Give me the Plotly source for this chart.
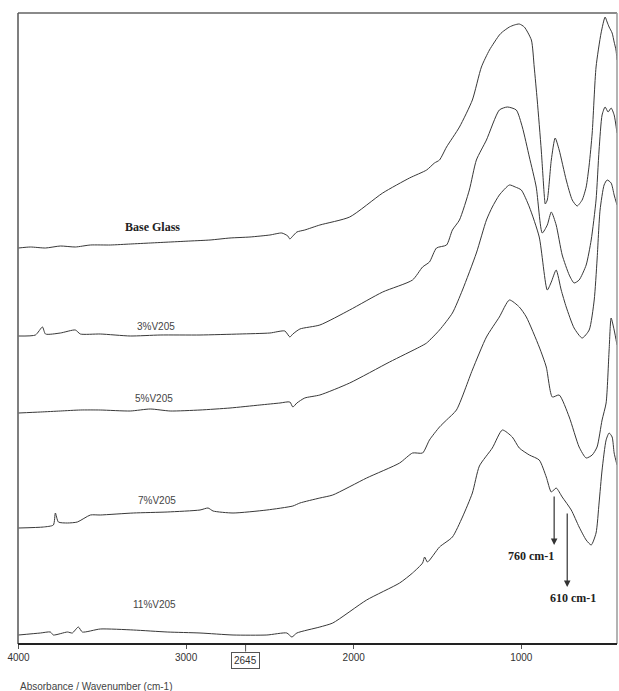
import plotly.graph_objects as go

# FTIR absorbance spectra (stacked, arbitrary offsets) -- wavenumber in cm-1
base_wn = [4000, 3929, 3839, 3750, 3661, 3571, 3452, 3333, 3214, 3095, 2976, 2857, 2738, 2619,
           2500, 2429, 2393, 2381, 2363, 2339, 2292, 2202, 2024, 1827, 1667, 1565, 1518, 1488,
           1446, 1369, 1292, 1238, 1190, 1131, 1113, 1071, 1042, 1012, 982, 940, 923, 905, 881,
           863, 857, 845, 821, 798, 774, 732, 696, 667, 637, 613, 595, 577, 554, 524, 500, 488,
           476, 458, 446, 435, 429]
base_abs = [3.96, 3.97, 3.96, 3.98, 3.97, 3.99, 3.99, 4.00, 4.01, 4.02, 4.03, 4.04, 4.06, 4.07,
            4.09, 4.11, 4.08, 4.05, 4.08, 4.12, 4.14, 4.19, 4.27, 4.51, 4.66, 4.74, 4.81, 4.84,
            4.97, 5.17, 5.44, 5.77, 5.94, 6.09, 6.12, 6.17, 6.19, 6.20, 6.17, 6.04, 5.77, 5.44,
            4.94, 4.49, 4.40, 4.44, 4.84, 5.06, 4.94, 4.64, 4.44, 4.38, 4.44, 4.57, 4.79, 5.11,
            5.77, 6.11, 6.27, 6.22, 6.17, 6.11, 6.02, 5.94, 5.84]

v3_wn = [4000, 3899, 3857, 3839, 3750, 3661, 3631, 3512, 3333, 3155, 2917, 2679, 2500, 2411,
         2381, 2363, 2321, 2202, 2024, 1827, 1649, 1589, 1548, 1506, 1446, 1411, 1369, 1310,
         1268, 1208, 1131, 1083, 1030, 994, 952, 911, 875, 845, 821, 792, 756, 714, 685, 655,
         613, 583, 554, 536, 518, 500, 482, 464, 446, 429]
v3_abs = [3.08, 3.09, 3.17, 3.10, 3.11, 3.14, 3.10, 3.10, 3.08, 3.09, 3.09, 3.10, 3.11, 3.13,
          3.07, 3.10, 3.15, 3.19, 3.34, 3.52, 3.64, 3.77, 3.82, 3.96, 3.99, 4.14, 4.24, 4.54,
          4.84, 5.04, 5.34, 5.37, 5.34, 5.17, 4.87, 4.57, 4.11, 4.19, 4.32, 4.19, 3.89, 3.69,
          3.61, 3.64, 3.79, 4.04, 4.44, 4.94, 5.29, 5.37, 5.32, 5.36, 5.29, 5.11]

v5_wn = [4000, 3869, 3750, 3631, 3512, 3333, 3214, 3095, 2917, 2738, 2560, 2440, 2381, 2363,
         2339, 2292, 2202, 2024, 1786, 1607, 1565, 1488, 1411, 1351, 1268, 1208, 1173, 1131,
         1071, 1036, 1000, 952, 893, 845, 821, 792, 762, 732, 685, 637, 595, 565, 548, 530,
         506, 488, 464, 446, 429]
v5_abs = [2.31, 2.32, 2.33, 2.34, 2.34, 2.33, 2.35, 2.33, 2.34, 2.36, 2.39, 2.41, 2.42, 2.37,
          2.41, 2.46, 2.49, 2.61, 2.82, 2.97, 3.01, 3.14, 3.31, 3.54, 3.91, 4.24, 4.37, 4.49,
          4.59, 4.57, 4.54, 4.37, 4.07, 3.54, 3.62, 3.74, 3.54, 3.37, 3.16, 3.06, 3.14, 3.44,
          3.84, 4.34, 4.59, 4.64, 4.61, 4.49, 4.39]

v7_wn = [4000, 3851, 3792, 3780, 3762, 3708, 3649, 3571, 3512, 3315, 3113, 2917, 2869, 2839,
         2720, 2518, 2363, 2321, 2202, 2125, 1923, 1726, 1649, 1589, 1548, 1488, 1446, 1387,
         1292, 1208, 1131, 1071, 1012, 970, 893, 851, 815, 774, 714, 655, 613, 577, 548, 518,
         494, 476, 464, 446, 429]
v7_abs = [1.16, 1.17, 1.19, 1.31, 1.22, 1.21, 1.22, 1.29, 1.29, 1.31, 1.32, 1.34, 1.36, 1.33,
          1.31, 1.34, 1.38, 1.41, 1.46, 1.49, 1.66, 1.81, 1.91, 1.91, 2.04, 2.17, 2.24, 2.34,
          2.74, 3.07, 3.27, 3.44, 3.37, 3.27, 2.97, 2.77, 2.47, 2.49, 2.27, 1.97, 1.86, 1.89,
          1.97, 2.24, 2.41, 2.94, 3.26, 3.14, 2.99]

v11_wn = [4000, 3869, 3810, 3792, 3708, 3679, 3643, 3619, 3512, 3315, 3113, 2917, 2720, 2518,
          2399, 2369, 2339, 2202, 2125, 1923, 1726, 1649, 1589, 1577, 1560, 1488, 1411, 1351,
          1292, 1250, 1173, 1113, 1054, 1012, 952, 893, 851, 821, 792, 756, 702, 655, 613, 583,
          554, 536, 518, 494, 476, 458, 446, 429]
v11_abs = [0.09, 0.11, 0.12, 0.09, 0.12, 0.11, 0.17, 0.12, 0.15, 0.14, 0.12, 0.11, 0.09, 0.09,
           0.11, 0.07, 0.11, 0.17, 0.21, 0.44, 0.61, 0.71, 0.81, 0.87, 0.82, 0.97, 1.07, 1.27,
           1.51, 1.78, 1.96, 2.14, 2.07, 1.96, 1.89, 1.84, 1.67, 1.52, 1.56, 1.47, 1.34, 1.17,
           1.04, 0.99, 1.11, 1.41, 1.74, 2.04, 2.11, 2.07, 1.91, 1.79]

series = [
    ("Base Glass", base_wn, base_abs),
    ("3%V205", v3_wn, v3_abs),
    ("5%V205", v5_wn, v5_abs),
    ("7%V205", v7_wn, v7_abs),
    ("11%V205", v11_wn, v11_abs),
]

# curve labels: (text, wavenumber, absorbance, font)
serif_bold = dict(family="Liberation Serif", size=12, color="#222")
small_sans = dict(family="Liberation Sans", size=10, color="#444")
curve_labels = [
    ("<b>Base Glass</b>", 3200, 4.17, serif_bold),
    ("3%V205", 3180, 3.18, small_sans),
    ("5%V205", 3190, 2.46, small_sans),
    ("7%V205", 3175, 1.44, small_sans),
    ("11%V205", 3190, 0.40, small_sans),
]

x_ticks = [4000, 3000, 2000, 1000]
cursor_wn = 2645

# arrows marking the shoulders on the 11% spectrum: (label, arrow x, head y, tail offset px, label x, label y)
band_marks = [
    ("760 cm-1", 804, 0.99, -50, 941, 0.88),
    ("610 cm-1", 726, 0.57, -75, 691, 0.46),
]

fig = go.Figure()
for name, wn, ab in series:
    fig.add_trace(go.Scatter(x=wn, y=ab, mode="lines", name=name,
                             line=dict(color="#383838", width=1, shape="spline", smoothing=0.6),
                             showlegend=False, hoverinfo="skip"))

for text, x, y, font in curve_labels:
    fig.add_annotation(x=x, y=y, text=text, showarrow=False, font=font)

for text, ax_x, head_y, tail, lx, ly in band_marks:
    fig.add_annotation(x=ax_x, y=head_y, ax=0, ay=tail, text="", showarrow=True,
                       arrowhead=2, arrowsize=1.1, arrowwidth=1.2, arrowcolor="#333")
    fig.add_annotation(x=lx, y=ly, text="<b>" + text + "</b>", showarrow=False, font=serif_bold)

# cursor readout below the axis
fig.add_shape(type="line", xref="x", yref="paper", x0=cursor_wn, x1=cursor_wn, y0=0, y1=-0.012,
              line=dict(color="#555", width=1))
fig.add_annotation(x=cursor_wn, xref="x", y=-0.012, yref="paper", yanchor="top", text="2645",
                   showarrow=False, bordercolor="#555", borderwidth=1, borderpad=2,
                   font=dict(family="Liberation Sans", size=10, color="#333"))

# frame
fig.add_shape(type="line", xref="paper", yref="paper", x0=0, x1=1, y0=1, y1=1,
              line=dict(color="#8a8a8a", width=2))
fig.add_shape(type="line", xref="paper", yref="paper", x0=1, x1=1, y0=0, y1=1,
              line=dict(color="#9a9a9a", width=1.5))
fig.add_shape(type="line", xref="paper", yref="paper", x0=0, x1=0, y0=0, y1=1,
              line=dict(color="#555", width=1.5))
fig.add_shape(type="line", xref="paper", yref="paper", x0=0, x1=1, y0=0, y1=0,
              line=dict(color="#222", width=2))

fig.add_annotation(x=0, xref="paper", xanchor="left", y=-0.068, yref="paper", yanchor="middle",
                   text="Absorbance / Wavenumber (cm-1)", showarrow=False,
                   font=dict(family="Liberation Sans", size=10, color="#444"))

fig.update_xaxes(range=[4003, 429], tickvals=x_ticks, ticktext=[str(t) for t in x_ticks],
                 ticks="outside", ticklen=4, tickcolor="#555", showgrid=False, zeroline=False,
                 showline=False, tickfont=dict(family="Liberation Sans", size=10, color="#333"))
fig.update_yaxes(range=[0, 6.31], showticklabels=False, ticks="", showgrid=False,
                 zeroline=False, showline=False)

fig.update_layout(width=619, height=691, margin=dict(l=18, r=2, t=13, b=47),
                  paper_bgcolor="white", plot_bgcolor="white")

fig.write_html("out.html")
